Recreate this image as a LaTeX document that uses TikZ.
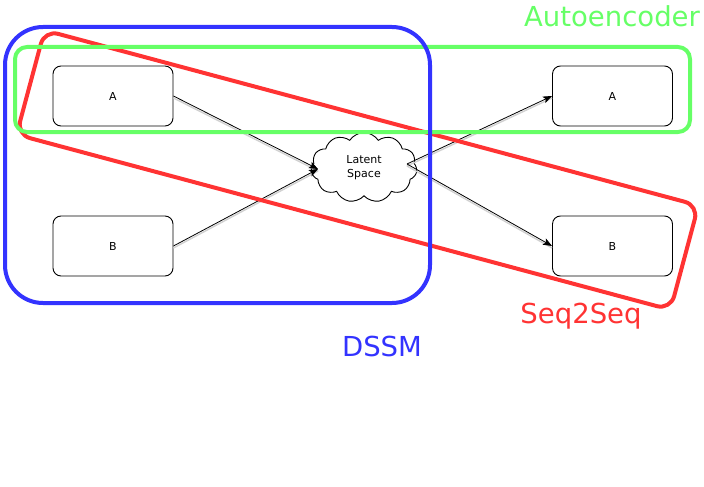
\documentclass[tikz,border=0pt]{standalone}
\usepackage{fontspec}
\setmainfont{DejaVu Sans}
\usetikzlibrary{shapes.symbols,arrows.meta,calc}
\definecolor{cblue}{RGB}{51,51,255}
\definecolor{cgreen}{RGB}{102,255,102}
\definecolor{cred}{RGB}{255,51,51}
\begin{document}
\begin{tikzpicture}[x=1pt,y=-1pt,
  box/.style={draw=black, line width=0.9pt, rounded corners=8pt, minimum width=120pt, minimum height=60pt, fill=white, font=\fontsize{11}{13}\selectfont},
  conn/.style={draw=black, line width=0.8pt, -{Stealth[length=9pt,width=7pt,inset=2pt]}},
  shad/.style={draw=black!18, line width=1.4pt},
  group/.style={line width=4pt},
  lbl/.style={font=\fontsize{27.5}{30}\selectfont}]
\useasboundingbox (0,0) rectangle (704,487);
% nodes
\node[box] (A1) at (113,96) {A};
\node[box] (B1) at (113,246) {B};
\node[box] (A2) at (612.5,96) {A};
\node[box] (B2) at (612.5,246) {B};
\node[cloud, draw=black, line width=0.9pt, fill=white, cloud puffs=11, cloud puff arc=115, aspect=1.55, minimum width=106pt, minimum height=70pt, inner sep=0pt, align=center, font=\fontsize{11}{13.3}\selectfont] (cl) at (364,167.5) {Latent\\ Space};
\coordinate (cin) at ($(cl.center)+(-46,1.5)$);
\coordinate (cout) at ($(cl.center)+(43,-3.5)$);
% shadows
\draw[shad] ([yshift=-2pt]A1.east) -- ([yshift=-2pt]cin);
\draw[shad] ([yshift=-2pt]B1.east) -- ([yshift=-2pt]cin);
\draw[shad] ([yshift=-2pt]cout) -- ([yshift=-2pt]A2.west);
\draw[shad] ([yshift=-2pt]cout) -- ([yshift=-2pt]B2.west);
% connectors
\draw[conn] (A1.east) -- (cin);
\draw[conn] (B1.east) -- (cin);
\draw[conn] (cout) -- (A2.west);
\draw[conn] (cout) -- (B2.west);
% group outlines (drawn over the nodes)
\node[group, draw=cred, rounded corners=14pt, minimum width=677pt, minimum height=108pt, rotate=-15, inner sep=0pt] (redgrp) at (357.5,170) {};
\draw[group, cgreen, rounded corners=12pt] (15,47) rectangle (690,132);
\draw[group, cblue, rounded corners=38pt] (5,27) rectangle (430,303);
% labels
\node[lbl, text=cgreen] (lauto) at (612,16) {Autoencoder};
\node[lbl, text=cred] (lseq) at (581,316) {Seq2Seq};
\node[lbl, text=cblue] (ldssm) at (382,346) {DSSM};
\end{tikzpicture}
\end{document}
